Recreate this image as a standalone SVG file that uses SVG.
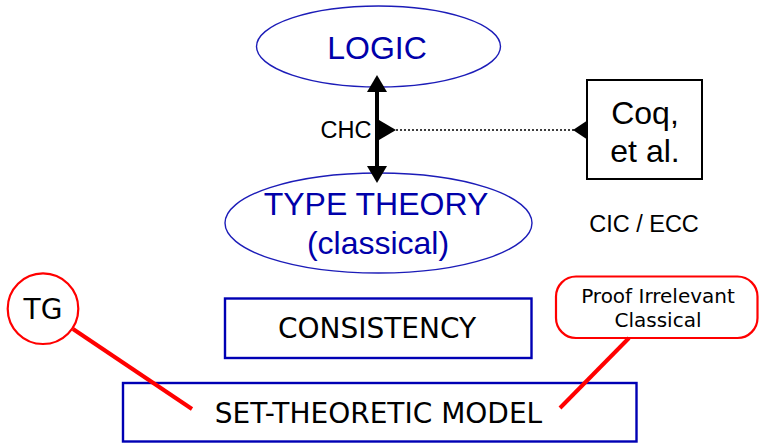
<svg xmlns="http://www.w3.org/2000/svg" width="759" height="443" viewBox="0 0 759 443">
  <style>
    .oval { fill: #ffffff; stroke: #1c1cb8; stroke-width: 1.4; }
    .blue-text { font-family: "Liberation Sans", Arial, sans-serif; font-size: 32px; fill: #0000aa; text-anchor: middle; }
    .arial { font-family: "Liberation Sans", Arial, sans-serif; fill: #000000; text-anchor: middle; }
    .dv { font-family: "DejaVu Sans", sans-serif; fill: #000000; text-anchor: middle; }
    .box-blue { fill: #ffffff; stroke: #0000b4; stroke-width: 2.4; }
    .red-shape { fill: #ffffff; stroke: #ff0000; stroke-width: 2.2; }
    .red-link { stroke: #ff0000; stroke-width: 4; fill: none; }
  </style>

  <g id="logic">
    <ellipse class="oval" cx="378.5" cy="46.5" rx="122" ry="40.5"/>
    <text class="blue-text" x="377" y="59">LOGIC</text>
  </g>

  <g id="type-theory">
    <ellipse class="oval" cx="378.5" cy="223" rx="153.5" ry="50"/>
    <text class="blue-text" x="376" y="215">TYPE THEORY</text>
    <text class="blue-text" x="378" y="254">(classical)</text>
  </g>

  <g id="chc-label">
    <text class="arial" x="346" y="138.3" font-size="23.5">CHC</text>
  </g>

  <g id="coq">
    <rect x="587" y="80" width="115" height="99" fill="#ffffff" stroke="#000" stroke-width="2"/>
    <text class="arial" x="645" y="123.5" font-size="32">Coq,</text>
    <text class="arial" x="645" y="161.5" font-size="32">et al.</text>
  </g>

  <g id="cic-ecc">
    <text class="arial" x="644" y="232.3" font-size="23.5">CIC / ECC</text>
  </g>

  <g id="tg">
    <circle class="red-shape" cx="43" cy="308.7" r="35.3"/>
    <text class="dv" x="43" y="319" font-size="28">TG</text>
  </g>

  <g id="proof-irrelevant">
    <rect class="red-shape" x="556" y="276.5" width="201.5" height="61.5" rx="20" ry="20"/>
    <text class="dv" x="658" y="303.3" font-size="20">Proof Irrelevant</text>
    <text class="dv" x="658" y="327.3" font-size="20">Classical</text>
  </g>

  <g id="consistency">
    <rect class="box-blue" x="225" y="298.5" width="306.5" height="59.5"/>
    <text class="dv" x="377" y="338.3" font-size="28">CONSISTENCY</text>
  </g>

  <g id="set-theoretic-model">
    <rect class="box-blue" x="123" y="383" width="513.5" height="58.5"/>
    <text class="dv" x="378.5" y="422.7" font-size="28">SET-THEORETIC MODEL</text>
  </g>

  <!-- connectors are painted last so they sit on top of the shapes -->
  <g id="connectors">
    <!-- CHC: two-way arrow between logic and type theory -->
    <line x1="377" y1="90" x2="377" y2="168" stroke="#000" stroke-width="4"/>
    <polygon points="377,75 367,92 387,92" fill="#000"/>
    <polygon points="377,183 367,166 387,166" fill="#000"/>
    <!-- dotted link from the CHC arrow to Coq -->
    <line x1="396" y1="130" x2="574" y2="130" stroke="#000" stroke-width="1.6" stroke-dasharray="2,2"/>
    <polygon points="379,120 396,130 379,140" fill="#000"/>
    <polygon points="588,120 573,130 588,140" fill="#000"/>
    <!-- red links into the set-theoretic model -->
    <line class="red-link" x1="73" y1="329" x2="192" y2="409"/>
    <line class="red-link" x1="629" y1="338" x2="560" y2="408"/>
  </g>
</svg>
